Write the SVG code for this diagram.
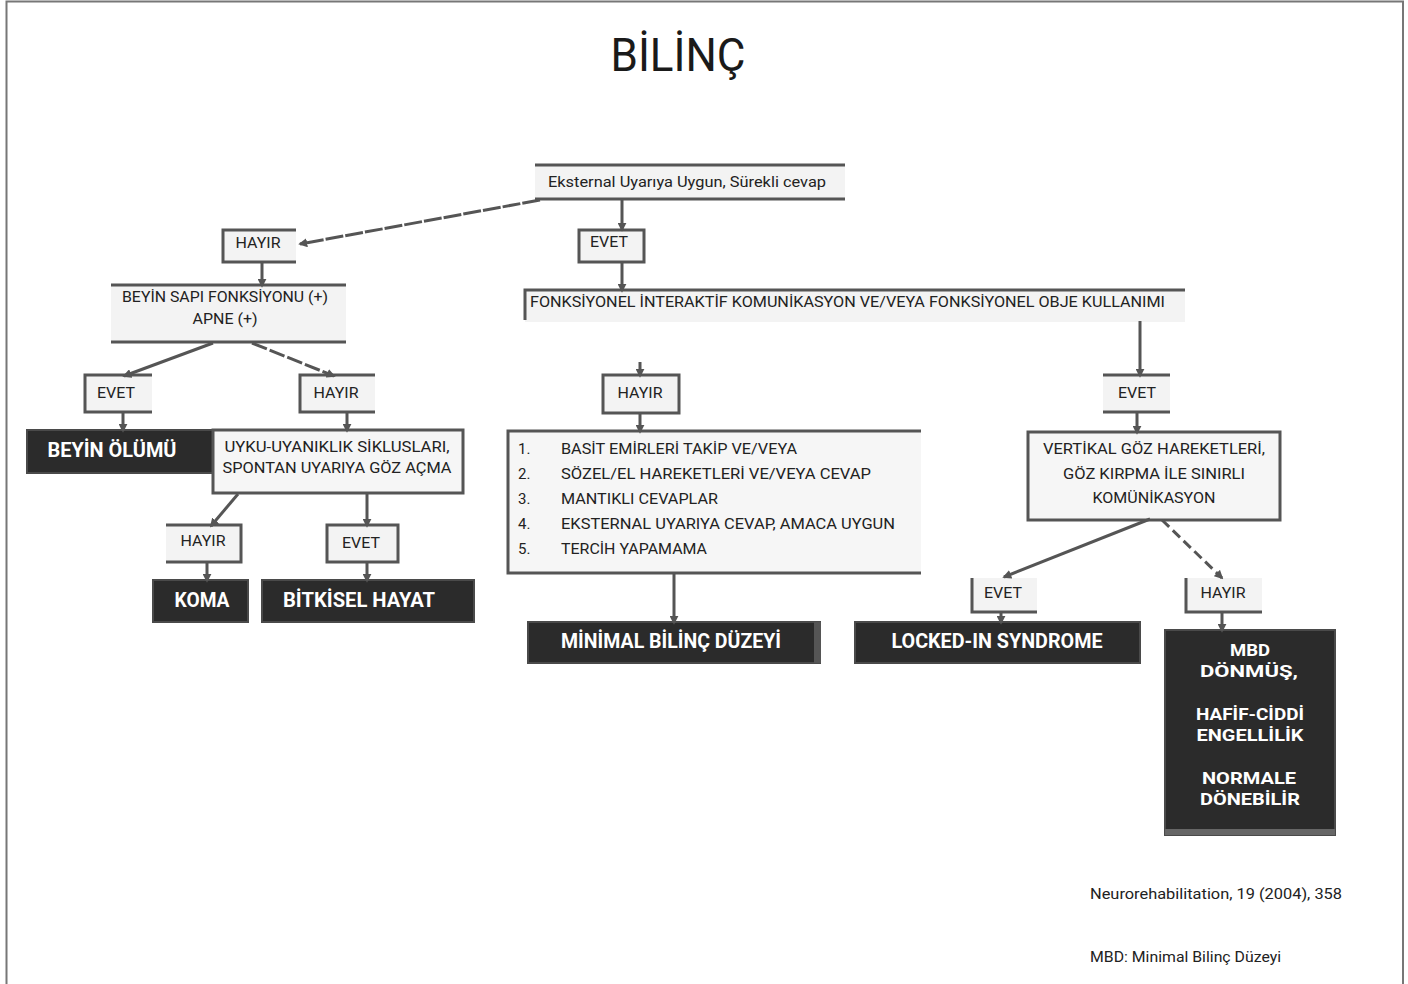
<svg xmlns="http://www.w3.org/2000/svg" width="1408" height="984" viewBox="0 0 1408 984">
<defs>
<style>
.t{font-family:Roboto,"Liberation Sans",sans-serif;font-size:15px;fill:#222}
.c{text-anchor:middle}
.w{font-family:Roboto,"Liberation Sans",sans-serif;font-size:20px;font-weight:bold;fill:#fff;text-anchor:middle}
.m{font-size:17px}
.ln{fill:none;stroke:#555;stroke-width:3}
.bg{fill:#f3f3f3}
.dk{fill:#2b2b2b;stroke:#4a4a4a;stroke-width:2}
.cn{fill:none;stroke:#555;stroke-width:3;marker-end:url(#ah)}
</style>
<marker id="ah" viewBox="0 0 10 10" refX="8" refY="5" markerWidth="3" markerHeight="3" orient="auto"><path d="M0 0 L10 5 L0 10 z" fill="#555"/></marker>
</defs>
<rect width="1408" height="984" fill="#fff"/>
<path d="M6.5 984 V1.5 H1403 V984" fill="none" stroke="#777" stroke-width="2"/>

<text x="678" y="71" font-family="Roboto,'Liberation Sans',sans-serif" font-size="46" fill="#1a1a1a" text-anchor="middle" textLength="135" lengthAdjust="spacingAndGlyphs">BİLİNÇ</text>

<g id="n-root">
<rect class="bg" x="535" y="165" width="310" height="34"/>
<path class="ln" d="M535 165 H845 M535 199 H845"/>
<text class="t c" x="687" y="187" textLength="278" lengthAdjust="spacingAndGlyphs">Eksternal Uyarıya Uygun, Sürekli cevap</text>
</g>

<g id="n-hayir1">
<rect class="bg" x="223" y="230" width="73" height="32"/>
<path class="ln" d="M296 230 H223 V262 H296"/>
<text class="t c" x="258" y="248" textLength="45" lengthAdjust="spacingAndGlyphs">HAYIR</text>
</g>

<g id="n-evet1">
<rect class="bg" x="579" y="230" width="65" height="32"/>
<rect class="ln" x="579" y="230" width="65" height="32"/>
<text class="t c" x="609" y="247" textLength="38" lengthAdjust="spacingAndGlyphs">EVET</text>
</g>

<g id="n-beyinsapi">
<rect class="bg" x="111" y="285" width="235" height="57"/>
<path class="ln" d="M111 285 H346 M111 342 H346"/>
<text class="t c" x="225" y="302" textLength="206" lengthAdjust="spacingAndGlyphs">BEYİN SAPI FONKSİYONU (+)</text>
<text class="t c" x="225" y="324" textLength="65" lengthAdjust="spacingAndGlyphs">APNE (+)</text>
</g>

<g id="n-fonk">
<rect class="bg" x="525" y="290" width="660" height="32"/>
<path class="ln" d="M525 320 V290 H1185"/>
<text class="t" x="530" y="307" textLength="635" lengthAdjust="spacingAndGlyphs">FONKSİYONEL İNTERAKTİF KOMUNİKASYON VE/VEYA FONKSİYONEL OBJE KULLANIMI</text>
</g>

<g id="n-evet2">
<rect class="bg" x="85" y="375" width="67" height="37"/>
<path class="ln" d="M152 375 H85 V412 H152"/>
<text class="t c" x="116" y="398" textLength="38" lengthAdjust="spacingAndGlyphs">EVET</text>
</g>

<g id="n-hayir2">
<rect class="bg" x="300" y="375" width="75" height="37"/>
<path class="ln" d="M375 375 H300 V412 H375"/>
<text class="t c" x="336" y="398" textLength="45" lengthAdjust="spacingAndGlyphs">HAYIR</text>
</g>

<g id="n-hayir3">
<rect class="bg" x="603" y="375" width="76" height="38"/>
<rect class="ln" x="603" y="375" width="76" height="38"/>
<text class="t c" x="640" y="398" textLength="45" lengthAdjust="spacingAndGlyphs">HAYIR</text>
</g>

<g id="n-evet3">
<rect class="bg" x="1103" y="375" width="67" height="37"/>
<path class="ln" d="M1103 375 H1170 M1103 412 H1170"/>
<text class="t c" x="1137" y="398" textLength="38" lengthAdjust="spacingAndGlyphs">EVET</text>
</g>

<g id="n-beyinolumu">
<rect class="dk" x="27" y="430" width="186" height="43"/>
<text class="w" x="112" y="457" textLength="129" lengthAdjust="spacingAndGlyphs">BEYİN ÖLÜMÜ</text>
</g>

<g id="n-uyku">
<rect fill="#f6f6f6" x="213" y="430" width="250" height="63"/>
<rect class="ln" x="213" y="430" width="250" height="63"/>
<text class="t c" x="337" y="452" textLength="225" lengthAdjust="spacingAndGlyphs">UYKU-UYANIKLIK SİKLUSLARI,</text>
<text class="t c" x="337" y="473" textLength="229" lengthAdjust="spacingAndGlyphs">SPONTAN UYARIYA GÖZ AÇMA</text>
</g>

<g id="n-list">
<rect fill="#f6f6f6" x="508" y="431" width="413" height="142"/>
<path class="ln" d="M921 431 H508 V573 H921"/>
<text class="t" x="518" y="454">1.</text>
<text class="t" x="561" y="454" textLength="236" lengthAdjust="spacingAndGlyphs">BASİT EMİRLERİ TAKİP VE/VEYA</text>
<text class="t" x="518" y="479">2.</text>
<text class="t" x="561" y="479" textLength="310" lengthAdjust="spacingAndGlyphs">SÖZEL/EL HAREKETLERİ VE/VEYA CEVAP</text>
<text class="t" x="518" y="504">3.</text>
<text class="t" x="561" y="504" textLength="157" lengthAdjust="spacingAndGlyphs">MANTIKLI CEVAPLAR</text>
<text class="t" x="518" y="529">4.</text>
<text class="t" x="561" y="529" textLength="334" lengthAdjust="spacingAndGlyphs">EKSTERNAL UYARIYA CEVAP, AMACA UYGUN</text>
<text class="t" x="518" y="554">5.</text>
<text class="t" x="561" y="554" textLength="146" lengthAdjust="spacingAndGlyphs">TERCİH YAPAMAMA</text>
</g>

<g id="n-vertikal">
<rect fill="#f6f6f6" x="1028" y="432" width="252" height="88"/>
<rect class="ln" x="1028" y="432" width="252" height="88"/>
<text class="t c" x="1154" y="454" textLength="222" lengthAdjust="spacingAndGlyphs">VERTİKAL GÖZ HAREKETLERİ,</text>
<text class="t c" x="1154" y="479" textLength="182" lengthAdjust="spacingAndGlyphs">GÖZ KIRPMA İLE SINIRLI</text>
<text class="t c" x="1154" y="503" textLength="123" lengthAdjust="spacingAndGlyphs">KOMÜNİKASYON</text>
</g>

<g id="n-hayir4">
<rect class="bg" x="166" y="525" width="75" height="37"/>
<path class="ln" d="M166 525 H241 V562 H166"/>
<text class="t c" x="203" y="546" textLength="45" lengthAdjust="spacingAndGlyphs">HAYIR</text>
</g>

<g id="n-evet4">
<rect class="bg" x="327" y="525" width="71" height="37"/>
<rect class="ln" x="327" y="525" width="71" height="37"/>
<text class="t c" x="361" y="548" textLength="38" lengthAdjust="spacingAndGlyphs">EVET</text>
</g>

<g id="n-evet5">
<rect class="bg" x="972" y="578" width="65" height="34"/>
<path class="ln" d="M972 578 V612 H1037"/>
<text class="t c" x="1003" y="598" textLength="38" lengthAdjust="spacingAndGlyphs">EVET</text>
</g>

<g id="n-hayir5">
<rect class="bg" x="1186" y="578" width="76" height="34"/>
<path class="ln" d="M1186 578 V612 H1262"/>
<text class="t c" x="1223" y="598" textLength="45" lengthAdjust="spacingAndGlyphs">HAYIR</text>
</g>

<g id="n-koma">
<rect class="dk" x="153" y="580" width="95" height="42"/>
<text class="w" x="202" y="607" textLength="55" lengthAdjust="spacingAndGlyphs">KOMA</text>
</g>

<g id="n-bitkisel">
<rect class="dk" x="262" y="580" width="212" height="42"/>
<text class="w" x="359" y="607" textLength="152" lengthAdjust="spacingAndGlyphs">BİTKİSEL HAYAT</text>
</g>

<g id="n-minimal">
<rect class="dk" x="528" y="622" width="292" height="41"/>
<rect x="814" y="622" width="7" height="41" fill="#555"/>
<text class="w" x="671" y="648" textLength="220" lengthAdjust="spacingAndGlyphs">MİNİMAL BİLİNÇ DÜZEYİ</text>
</g>

<g id="n-locked">
<rect class="dk" x="855" y="622" width="285" height="41"/>
<text class="w" x="997" y="648" textLength="211" lengthAdjust="spacingAndGlyphs">LOCKED-IN SYNDROME</text>
</g>

<g id="n-mbd">
<rect class="dk" x="1165" y="630" width="170" height="205"/>
<rect x="1165" y="829" width="170" height="6" fill="#666"/>
<text class="w m" x="1250" y="656" textLength="40" lengthAdjust="spacingAndGlyphs">MBD</text>
<text class="w m" x="1249" y="677" textLength="98" lengthAdjust="spacingAndGlyphs">DÖNMÜŞ,</text>
<text class="w m" x="1250" y="720" textLength="108" lengthAdjust="spacingAndGlyphs">HAFİF-CİDDİ</text>
<text class="w m" x="1250" y="741" textLength="107" lengthAdjust="spacingAndGlyphs">ENGELLİLİK</text>
<text class="w m" x="1249" y="784" textLength="94" lengthAdjust="spacingAndGlyphs">NORMALE</text>
<text class="w m" x="1250" y="805" textLength="100" lengthAdjust="spacingAndGlyphs">DÖNEBİLİR</text>
</g>

<g id="connectors">
<path class="cn" d="M540 200 L300 244" stroke-dasharray="18 2"/>
<path class="cn" d="M622 200 V230"/>
<path class="cn" d="M622 262 V291"/>
<path class="cn" d="M262 262 V286"/>
<path class="cn" d="M213 343 L124 376"/>
<path class="cn" d="M252 343 L334 376" stroke-dasharray="16 3"/>
<path class="cn" d="M123 412 V431"/>
<path class="cn" d="M347 412 V431"/>
<path class="cn" d="M238 494 L211 526"/>
<path class="cn" d="M367 494 V526"/>
<path class="cn" d="M207 562 V581"/>
<path class="cn" d="M367 562 V581"/>
<path class="cn" d="M640 362 V376"/>
<path class="cn" d="M640 413 V432"/>
<path class="cn" d="M674 573 V623"/>
<path class="cn" d="M1140 321 V376"/>
<path class="cn" d="M1137 412 V433"/>
<path class="cn" d="M1150 519 L1004 577"/>
<path class="cn" d="M1162 520 L1222 578" stroke-dasharray="10 5"/>
<path class="cn" d="M1001 612 V623"/>
<path class="cn" d="M1222 612 V631"/>
</g>

<text class="t" x="1090" y="899" font-size="14" textLength="252" lengthAdjust="spacingAndGlyphs">Neurorehabilitation, 19 (2004), 358</text>
<text class="t" x="1090" y="962" font-size="14" textLength="191" lengthAdjust="spacingAndGlyphs">MBD: Minimal Bilinç Düzeyi</text>
</svg>
